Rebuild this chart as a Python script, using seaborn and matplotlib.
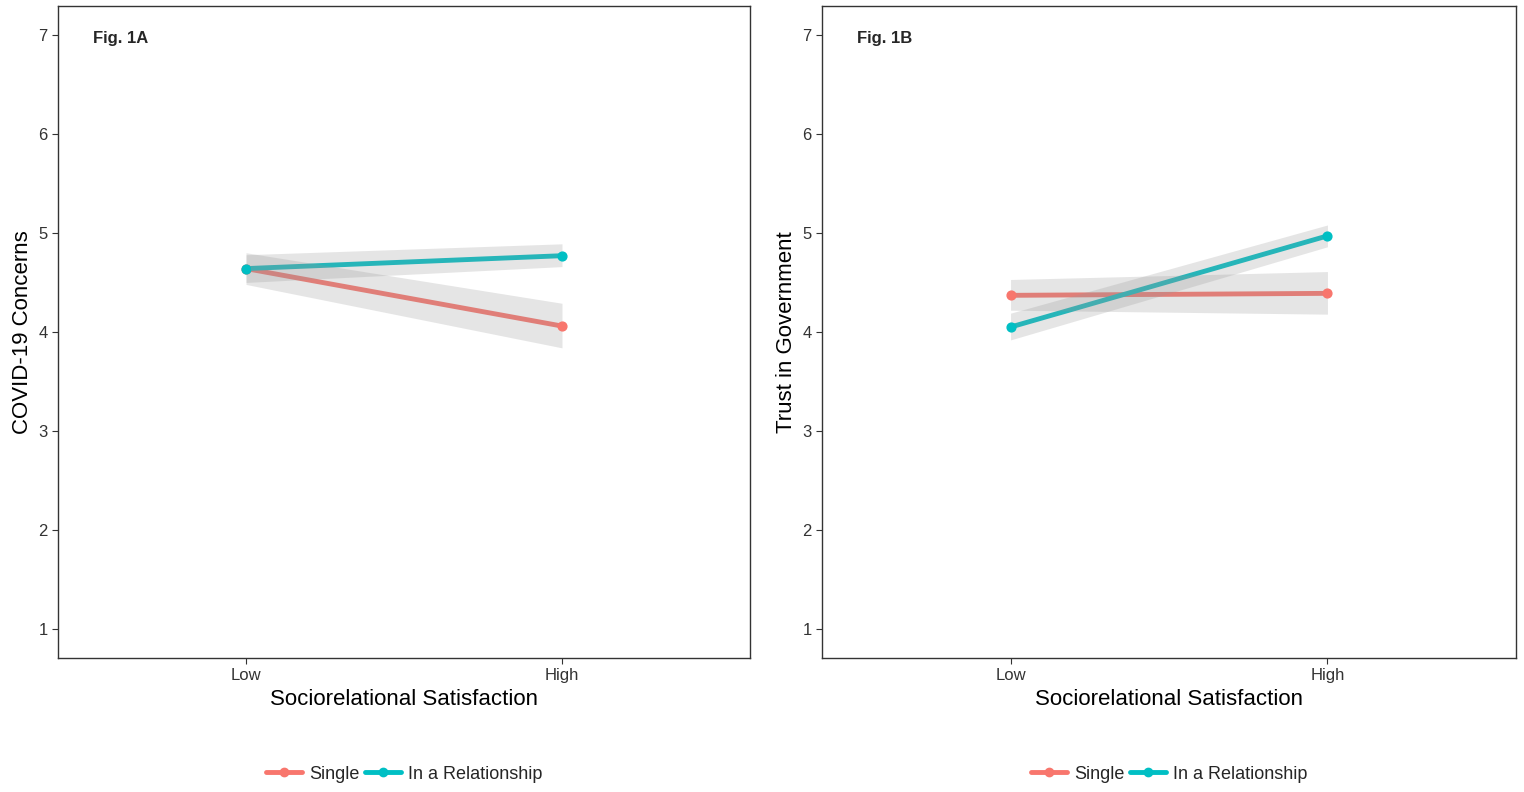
import matplotlib.pyplot as plt
import seaborn as sns
import pandas as pd
import numpy as np

levels = ["Low", "High"]
groups = ["Single", "In a Relationship"]
colors = ["#F8766D", "#00BFC4"]

# Fig. 1A: COVID-19 concerns
a_single = [4.64, 4.06]
a_single_lo = [4.48, 3.84]
a_single_hi = [4.80, 4.29]
a_rel = [4.64, 4.77]
a_rel_lo = [4.50, 4.66]
a_rel_hi = [4.78, 4.89]

# Fig. 1B: trust in government
b_single = [4.37, 4.39]
b_single_lo = [4.22, 4.18]
b_single_hi = [4.53, 4.61]
b_rel = [4.05, 4.97]
b_rel_lo = [3.92, 4.86]
b_rel_hi = [4.19, 5.08]

panels = [
    ("Fig. 1A", "COVID-19 Concerns",
     [(a_single, a_single_lo, a_single_hi), (a_rel, a_rel_lo, a_rel_hi)]),
    ("Fig. 1B", "Trust in Government",
     [(b_single, b_single_lo, b_single_hi), (b_rel, b_rel_lo, b_rel_hi)]),
]

sns.set_style("white")
plt.rcParams['font.family'] = ['Liberation Sans', 'DejaVu Sans']

fig = plt.figure(figsize=(15.24, 7.92), dpi=100)
W, H = 1524, 792
boxes = [(58, 6, 750, 658), (822, 6, 1516, 658)]
xpos = np.arange(len(levels))

for (x0, y0, x1, y1), (tag, ylab, series) in zip(boxes, panels):
    ax = fig.add_axes([x0 / W, 1 - y1 / H, (x1 - x0) / W, (y1 - y0) / H])
    handles = []
    for (vals, lo, hi), g, c in zip(series, groups, colors):
        df = pd.DataFrame({"x": xpos, "y": vals})
        sns.lineplot(data=df, x="x", y="y", color=c, lw=3.5, ax=ax, zorder=2)
    for (vals, lo, hi), c in zip(series, colors):
        ax.fill_between(xpos, lo, hi, color="#999999", alpha=0.25, lw=0, zorder=3)
    for (vals, lo, hi), g, c in zip(series, groups, colors):
        ax.scatter(xpos, vals, color=c, s=40, zorder=4)
        handles.append(plt.Line2D([], [], color=c, lw=3.5, marker="o", markersize=6, label=g))
    ax.set_xlim(-0.595, 1.595)
    ax.set_ylim(0.71, 7.29)
    ax.set_xticks(xpos, levels)
    ax.set_yticks(range(1, 8))
    ax.tick_params(axis="both", labelsize=12, colors="#4d4d4d", length=4, left=True, bottom=True)
    ax.tick_params(axis="both", colors="#333333")
    for sp in ax.spines.values():
        sp.set_color("#333333")
        sp.set_linewidth(1)
    ax.set_xlabel("Sociorelational Satisfaction", fontsize=16, color="black")
    ax.set_ylabel(ylab, fontsize=16, color="black")
    ax.text(0.05, 0.95, tag, transform=ax.transAxes, fontsize=12, fontweight="bold", va="center")
    ax.legend(handles=handles, loc="center", bbox_to_anchor=(0.5, -0.178), ncol=2,
              frameon=False, fontsize=13, handlelength=2, columnspacing=0.3, handletextpad=0.4)

fig.savefig("out.png", dpi=100)
